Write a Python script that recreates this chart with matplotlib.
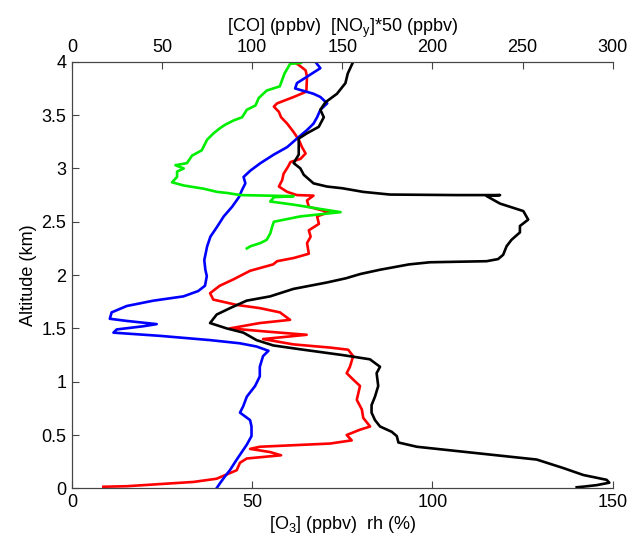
import numpy as np
import matplotlib
matplotlib.use('Agg')
from matplotlib import pyplot as plt

plt.rcParams['font.family'] = ['Liberation Sans', 'DejaVu Sans']
plt.rcParams['mathtext.fontset'] = 'custom'
plt.rcParams['mathtext.rm'] = 'Liberation Sans'

# O3 (ppbv), bottom axis
o3_alt = [4.0, 3.97, 3.92, 3.86, 3.72, 3.67, 3.61, 3.58, 3.53, 3.48, 3.42, 3.34, 3.27, 3.2, 3.14, 3.09,
          3.06, 3.02, 2.95, 2.89, 2.83, 2.78, 2.75, 2.745, 2.7, 2.64, 2.59, 2.55, 2.48, 2.42, 2.36, 2.3,
          2.2, 2.16, 2.13, 2.1, 2.04, 1.96, 1.9, 1.83, 1.77, 1.72, 1.69, 1.65, 1.58, 1.55, 1.5, 1.47,
          1.44, 1.4, 1.35, 1.32, 1.3, 1.24, 1.14, 1.08, 1.02, 0.96, 0.83, 0.74, 0.66, 0.58, 0.55, 0.5,
          0.45, 0.42, 0.39, 0.37, 0.34, 0.31, 0.28, 0.24, 0.17, 0.09, 0.06, 0.04, 0.02, 0.015]
o3_val = [61.5, 62.9, 64.8, 65.2, 65.0, 61.5, 56.9, 56.0, 57.4, 58.0, 59.7, 61.5, 62.9, 63.8, 64.8, 63.4,
          60.6, 60.0, 58.7, 58.3, 57.4, 59.7, 62.4, 67.0, 65.2, 65.7, 71.2, 68.0, 68.5, 65.7, 66.2, 65.2,
          65.7, 61.5, 56.9, 55.8, 49.4, 44.8, 41.0, 38.3, 39.2, 45.7, 52.1, 57.7, 60.5, 52.1, 43.8, 54.0,
          65.1, 53.0, 61.4, 71.6, 76.6, 78.0, 77.1, 76.2, 78.0, 79.9, 79.0, 80.4, 80.8, 82.7, 79.9, 76.2,
          77.6, 71.6, 52.1, 49.4, 55.0, 58.0, 48.5, 46.6, 45.7, 40.1, 33.7, 24.4, 15.2, 8.7]

# rh (%), bottom axis
rh_alt = [4.0, 3.94, 3.91, 3.86, 3.8, 3.75, 3.7, 3.67, 3.61, 3.55, 3.48, 3.42, 3.36, 3.28, 3.2, 3.13,
          3.05, 2.98, 2.92, 2.86, 2.8, 2.73, 2.64, 2.55, 2.45, 2.36, 2.27, 2.14, 2.05, 1.99, 1.9, 1.85,
          1.8, 1.76, 1.71, 1.65, 1.59, 1.57, 1.54, 1.52, 1.49, 1.46, 1.43, 1.39, 1.36, 1.33, 1.29, 1.24,
          1.14, 1.05, 0.96, 0.86, 0.77, 0.71, 0.64, 0.58, 0.49, 0.41, 0.34, 0.27, 0.17, 0.11, 0.05, 0.0]
rh_val = [67.5, 68.9, 67.5, 65.2, 62.4, 61.9, 67.0, 68.9, 70.8, 68.9, 68.0, 67.0, 65.2, 62.4, 59.7, 56.0,
          52.3, 49.5, 47.6, 48.1, 47.2, 46.3, 44.4, 42.1, 40.2, 38.4, 37.5, 36.7, 37.0, 37.4, 36.9, 35.0,
          30.9, 22.6, 15.2, 11.0, 10.5, 15.2, 23.5, 19.8, 12.4, 11.5, 24.4, 38.3, 46.6, 51.2, 54.5, 53.0,
          52.1, 52.1, 50.8, 48.5, 47.5, 46.6, 49.4, 49.8, 49.8, 48.5, 47.1, 45.7, 43.8, 42.4, 41.1, 40.1]

# CO (ppbv), top axis
co_alt = [4.0, 3.89, 3.8, 3.7, 3.62, 3.55, 3.48, 3.39, 3.33, 3.28, 3.2, 3.13, 3.05, 3.0, 2.94, 2.86,
          2.83, 2.814, 2.78, 2.755, 2.75, 2.75, 2.745, 2.74, 2.67, 2.63, 2.6, 2.52, 2.46, 2.4, 2.33,
          2.27, 2.19, 2.15, 2.13, 2.12, 2.1, 2.05, 2.01, 1.97, 1.93, 1.87, 1.8, 1.76, 1.69, 1.63, 1.55,
          1.5, 1.46, 1.39, 1.34, 1.3, 1.25, 1.21, 1.14, 1.08, 0.96, 0.86, 0.78, 0.71, 0.64, 0.58, 0.53,
          0.49, 0.43, 0.39, 0.36, 0.31, 0.27, 0.19, 0.125, 0.08, 0.053, 0.03, 0.016, 0.01]
co_val = [156, 153, 151.7, 147, 140.6, 137.8, 139.7, 136.9, 130.4, 125.8, 125.8, 125.8, 123, 126.7, 128.6, 134,
          141.5, 150, 161.6, 176.4, 213.4, 237.5, 232, 230.1, 237.5, 244.9, 250.4, 253.1, 248.5, 248.5, 243.8,
          241.1, 239.2, 236.4, 230, 198.6, 187, 170.9, 160, 152, 141.3, 122.8, 109.9, 96.9, 87.7, 80.3, 76.6,
          85.8, 95.1, 102.4, 111.7, 128.3, 150, 165.3, 170.9, 169, 169.9, 168.1, 166.2, 166.2, 168.1, 170.9, 177.4,
          180.2, 181.1, 191.3, 207.9, 235.6, 257.8, 272.6, 283.7, 296.6, 298.1, 291.1, 283.7, 280]

# NOy*50 (ppbv), top axis
noy_alt = [3.99, 3.98, 3.89, 3.77, 3.73, 3.66, 3.59, 3.55, 3.48, 3.45, 3.41, 3.38, 3.33, 3.27, 3.17, 3.12,
           3.05, 3.03, 3.0, 2.97, 2.92, 2.87, 2.84, 2.81, 2.78, 2.77, 2.75, 2.74, 2.73, 2.69, 2.66, 2.63,
           2.59, 2.55, 2.5, 2.45, 2.39, 2.33, 2.3, 2.27, 2.25]
noy_val = [127, 121, 117.9, 115.3, 108, 103.6, 101.8, 97, 94.4, 89.7, 85, 82.3, 78.6, 75, 72, 66.6,
           63.8, 57.4, 62, 58.3, 58.3, 55.5, 62, 73, 80.5, 86, 93.4, 123, 112, 110, 123, 134,
           149, 126.7, 112, 111, 110, 108, 104.5, 99, 97]

fig = plt.figure(figsize=(6.33, 5.42), dpi=100)
ax = fig.add_axes([0.1137, 0.099, 0.8543, 0.787])
ax2 = ax.twiny()

lw = 1.9
ax.plot(o3_val, o3_alt, color='red', lw=lw)
ax.plot(rh_val, rh_alt, color='blue', lw=lw)
ax2.plot(co_val, co_alt, color='black', lw=lw)
ax2.plot(noy_val, noy_alt, color='#00ee00', lw=lw)

ax.set_xlim(0, 150)
ax.set_ylim(0, 4)
ax2.set_xlim(0, 300)
ax.set_xticks([0, 50, 100, 150])
ax.set_yticks(np.arange(0, 4.01, 0.5))
ax.set_yticklabels(['0', '0.5', '1', '1.5', '2', '2.5', '3', '3.5', '4'])
ax2.set_xticks([0, 50, 100, 150, 200, 250, 300])

for a in (ax, ax2):
    a.spines['right'].set_visible(False)
    for s in a.spines.values():
        s.set_color('#444444')
        s.set_linewidth(0.8)
    a.tick_params(direction='in', length=5, width=0.8, color='#444444', labelsize=13, pad=4)

ax.set_xlabel('[O$_\\mathrm{3}$] (ppbv)  rh (%)', fontsize=13, labelpad=2)
ax2.set_xlabel('[CO] (ppbv)  [NO$_\\mathrm{y}$]*50 (ppbv)', fontsize=13, labelpad=5)
ax.set_ylabel('Altitude (km)', fontsize=13, labelpad=3)

plt.savefig('out.png', dpi=100)
